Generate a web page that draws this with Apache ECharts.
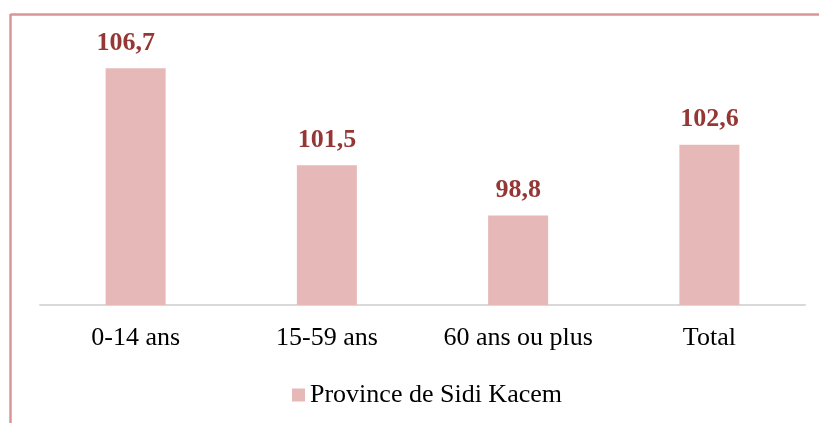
<!DOCTYPE html>
<html>
<head>
<meta charset="utf-8">
<script src="https://cdn.jsdelivr.net/npm/echarts@6/dist/echarts.min.js"></script>
<style>
html, body { margin: 0; padding: 0; background: #fff; }
#chart { width: 819px; height: 423px; }
</style>
</head>
<body>
<div id="chart"></div>
<script>
var categories = ['0-14 ans', '15-59 ans', '60 ans ou plus', 'Total'];
var values = [106.7, 101.5, 98.8, 102.6];
var seriesName = 'Province de Sidi Kacem';

// l'étiquette de la première barre est décalée à gauche dans l'original
var barData = values.map(function (v, i) {
    if (i === 0) return {value: v, label: {offset: [-10, 0]}};
    return v;
});

var myChart = echarts.init(document.getElementById('chart'));
myChart.setOption({
    animation: false,
    textStyle: {fontFamily: 'Liberation Serif'},
    // cadre du graphique (haut + gauche)
    graphic: [
        {type: 'line', shape: {x1: 10.5, y1: 14.5, x2: 819, y2: 14.5}, style: {stroke: '#d99694', lineWidth: 2.5}},
        {type: 'line', shape: {x1: 10.5, y1: 14, x2: 10.5, y2: 423}, style: {stroke: '#d99694', lineWidth: 2.5}}
    ],
    legend: {
        data: [seriesName],
        top: 377,
        left: 287,
        itemWidth: 13,
        itemHeight: 13,
        itemGap: 8,
        icon: 'rect',
        textStyle: {fontFamily: 'Liberation Serif', fontSize: 26, color: '#000'}
    },
    grid: {left: 40, right: 14, top: 44, bottom: 118},
    xAxis: {
        type: 'category',
        data: categories,
        axisLine: {lineStyle: {color: '#d9d9d9', width: 2}},
        axisTick: {show: false},
        axisLabel: {interval: 0, fontFamily: 'Liberation Serif', fontSize: 26, color: '#000', margin: 20}
    },
    yAxis: {
        type: 'value',
        min: 94,
        max: 108,
        show: false
    },
    series: [{
        name: seriesName,
        type: 'bar',
        data: barData,
        barWidth: 60,
        itemStyle: {color: '#e6b8b7'},
        label: {
            show: true,
            position: 'top',
            distance: 12,
            fontFamily: 'Liberation Serif',
            fontSize: 26,
            fontWeight: 'bold',
            color: '#953735',
            formatter: function (p) {
                return p.value.toFixed(1).replace('.', ',');
            }
        }
    }]
});
</script>
</body>
</html>
